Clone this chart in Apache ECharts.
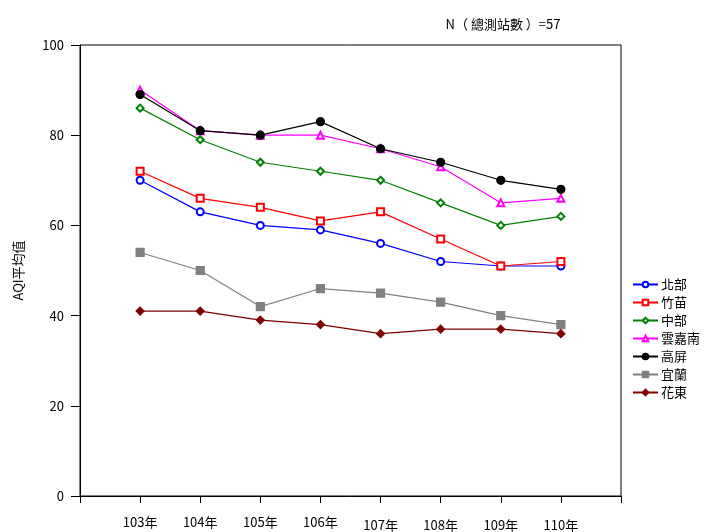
<!DOCTYPE html>
<html><head><meta charset="utf-8">
<script src="https://cdn.jsdelivr.net/npm/echarts@6/dist/echarts.min.js"></script>
<style>html,body{margin:0;padding:0;background:#fff}#c{width:705px;height:532px}</style>
</head><body><div id="c"></div>
<script>
const years = [103,104,105,106,107,108,109,110];
const seriesNames = ['北部','竹苗','中部','雲嘉南','高屏','宜蘭','花東'];
const north = [70,63,60,59,56,52,51,51];
const zhumiao = [72,66,64,61,63,57,51,52];
const central = [86,79,74,72,70,65,60,62];
const yunjianan = [90,81,80,80,77,73,65,66];
const gaoping = [89,81,80,83,77,74,70,68];
const yilan = [54,50,42,46,45,43,40,38];
const huadong = [41,41,39,38,36,37,37,36];
const yTicks = [0,20,40,60,80,100];

const values = [north, zhumiao, central, yunjianan, gaoping, yilan, huadong];
const colors = ['#0000FF','#FF0000','#008000','#FF00FF','#000000','#808080','#800000'];
const symbols = ['emptyCircle','emptyRect','emptyDiamond','emptyTriangle','circle','rect','diamond'];
const sizes = [7,7,7,7,8,8,8];
const FONT = 'Noto Sans CJK TC';

const chart = echarts.init(document.getElementById('c'));
chart.setOption({
  animation:false,
  textStyle:{fontFamily:FONT},
  title:{text:'N（ 總測站數 ）=57', left:498, top:13, textAlign:'center',
    textStyle:{fontSize:13, fontWeight:'normal', color:'#000', fontFamily:FONT}},
  grid:{left:80, top:45, width:541, height:452, show:true, borderColor:'#000', borderWidth:1, containLabel:false},
  legend:{orient:'vertical', left:627, top:273, itemWidth:25, itemHeight:7, itemGap:5,
    textStyle:{fontSize:13, color:'#000', fontFamily:FONT, padding:[0,0,0,-2]},
    data:seriesNames},
  xAxis:{type:'value', min:102, max:111, interval:1,
    axisLine:{lineStyle:{color:'#000'}},
    axisTick:{show:true, length:7, inside:false, lineStyle:{color:'#000'}},
    splitLine:{show:false},
    axisLabel:{margin:20, fontSize:13, color:'#000', fontFamily:FONT,
      formatter:v => {
        const k = years.indexOf(v);
        if (k < 0) return '';
        return (k < 4 ? '{a|' : '{b|') + v + '年}';
      },
      rich:{a:{fontSize:13, fontFamily:FONT, color:'#000'},
            b:{fontSize:13, fontFamily:FONT, color:'#000', padding:[3,0,0,0]}}}},
  yAxis:{type:'value', min:yTicks[0], max:yTicks[yTicks.length-1], interval:20,
    name:'AQI平均值', nameLocation:'middle', nameGap:55, nameRotate:90,
    nameTextStyle:{fontSize:13, color:'#000', fontFamily:FONT},
    axisLine:{show:true, lineStyle:{color:'#000'}},
    axisTick:{show:true, length:9, lineStyle:{color:'#000'}},
    splitLine:{show:false},
    axisLabel:{margin:16, fontSize:13, color:'#000', fontFamily:FONT}},
  series: seriesNames.map((n,i)=>({
    name:n, type:'line',
    data: years.map((y,j)=>[y, values[i][j]]),
    symbol:symbols[i], symbolSize:sizes[i],
    color:colors[i],
    lineStyle:{width:1.2, color:colors[i]},
    itemStyle:{color:colors[i], borderColor:colors[i], borderWidth:1.2}
  }))
});
</script></body></html>
